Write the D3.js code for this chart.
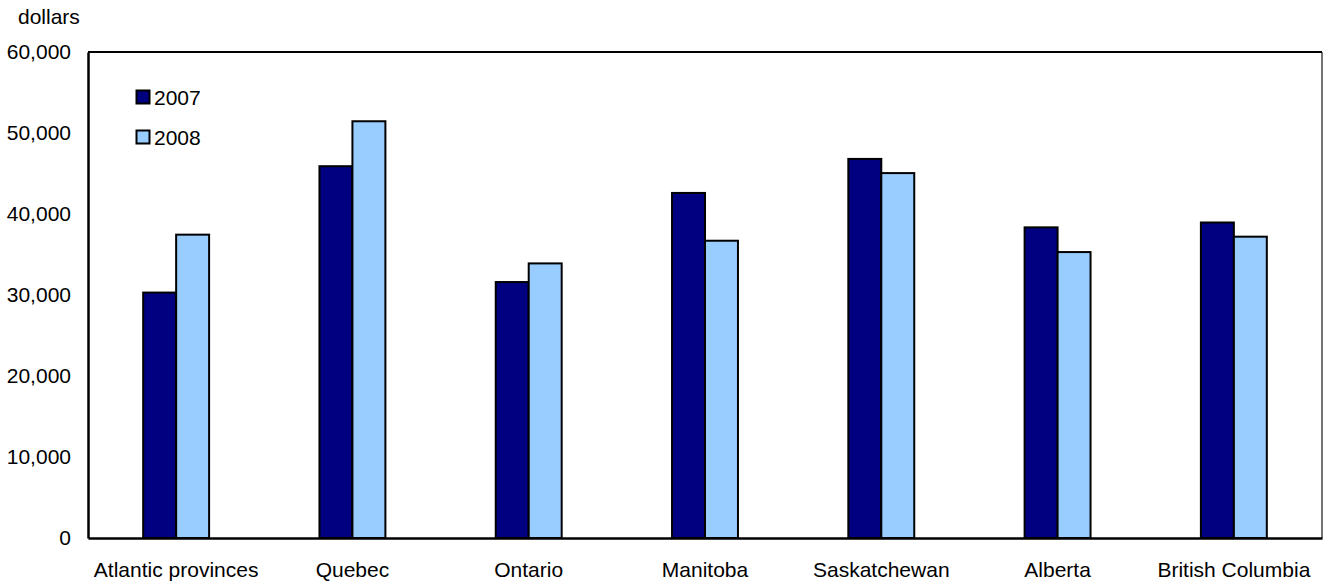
<!DOCTYPE html>
<html>
<head>
<meta charset="utf-8">
<script src="https://cdn.jsdelivr.net/npm/d3@7"></script>
<style>
  html, body { margin: 0; padding: 0; background: #fff; }
  svg { display: block; font-family: "Liberation Sans", Arial, Helvetica, sans-serif; }
</style>
</head>
<body>
<svg id="chart" width="1323" height="584"></svg>
<script>
const categories = ["Atlantic provinces", "Quebec", "Ontario", "Manitoba", "Saskatchewan", "Alberta", "British Columbia"];
const seriesNames = ["2007", "2008"];
const values2007 = [30300, 45900, 31600, 42600, 46800, 38350, 38950];
const values2008 = [37450, 51450, 33900, 36700, 45050, 35300, 37200];
const yTicks = [0, 10000, 20000, 30000, 40000, 50000, 60000];
const colors = ["#000080", "#99ccff"];
const yLabel = "dollars";

(function () {
const svg = d3.select("#chart");
const mLeft = 88, mRight = 1322, mTop = 52, mBottom = 538;
const fontSize = 21;

const x = d3.scaleBand().domain(categories).range([mLeft, mRight]).paddingInner(0.626).paddingOuter(0.313);
const xs = d3.scaleBand().domain(seriesNames).range([0, x.bandwidth()]);
const y = d3.scaleLinear().domain([0, 60000]).range([mBottom, mTop]);

const series = [values2007, values2008];

// bars
series.forEach((vals, si) => {
  svg.append("g").selectAll("rect").data(vals).join("rect")
    .attr("x", (d, i) => x(categories[i]) + xs(seriesNames[si]))
    .attr("y", d => y(d))
    .attr("width", xs.bandwidth())
    .attr("height", d => y(0) - y(d))
    .attr("fill", colors[si])
    .attr("stroke", "#000")
    .attr("stroke-width", 2);
});

// frame
svg.append("line").attr("x1", mRight).attr("x2", mRight).attr("y1", mTop).attr("y2", mBottom)
  .attr("stroke", "#444").attr("stroke-width", 1.5);
svg.append("line").attr("x1", mLeft).attr("x2", mRight).attr("y1", mTop).attr("y2", mTop)
  .attr("stroke", "#000").attr("stroke-width", 2);

// y axis
const yAxis = d3.axisLeft(y).tickValues(yTicks).tickSize(0).tickPadding(17)
  .tickFormat(d3.format(","));
const gy = svg.append("g").attr("transform", `translate(${mLeft},0)`).call(yAxis);
gy.select(".domain").attr("stroke", "#000").attr("stroke-width", 2.5);
gy.selectAll("text").attr("font-size", fontSize).attr("fill", "#000")
  .attr("font-family", "'Liberation Sans', Arial, sans-serif");

// x axis
const xAxis = d3.axisBottom(x).tickSize(0).tickPadding(24);
const gx = svg.append("g").attr("transform", `translate(0,${mBottom})`).call(xAxis);
gx.select(".domain").attr("stroke", "#000").attr("stroke-width", 2.5);
gx.selectAll("text").attr("font-size", fontSize).attr("fill", "#000")
  .attr("font-family", "'Liberation Sans', Arial, sans-serif");

// y label
svg.append("text").attr("x", 18).attr("y", 24).attr("font-size", fontSize).text(yLabel);

// legend
const legend = svg.append("g");
seriesNames.forEach((name, i) => {
  const ly = 90 + i * 40;
  legend.append("rect").attr("x", 136.5).attr("y", ly + 0.5).attr("width", 13).attr("height", 13)
    .attr("fill", colors[i]).attr("stroke", "#000").attr("stroke-width", 2);
  legend.append("text").attr("x", 154).attr("y", ly + 14.5).attr("font-size", fontSize).text(name);
});
})();
</script>
</body>
</html>
